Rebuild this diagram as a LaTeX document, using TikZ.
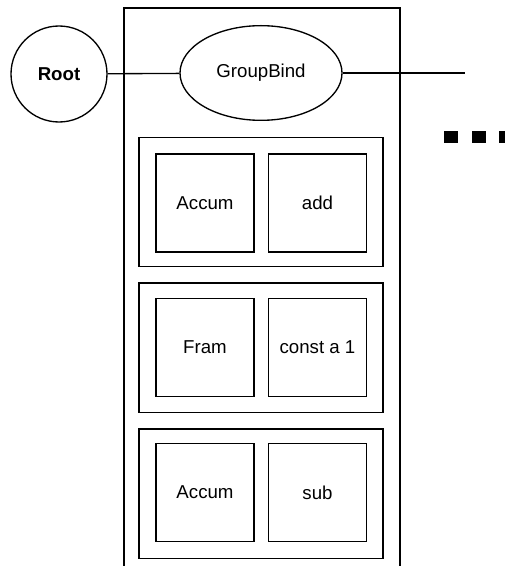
\documentclass[tikz,border=0pt]{standalone}
\usepackage{fontspec}
\setmainfont{Liberation Sans}
\usetikzlibrary{shapes.geometric}
\begin{document}
\begin{tikzpicture}[x=0.75pt,y=-0.75pt,
  every node/.style={font=\fontsize{14}{16}\selectfont, line width=1pt, inner sep=0pt},
  line/.style={line width=1pt},
  cell/.style={draw, rectangle, minimum width=73.5pt, minimum height=73.5pt},
  group/.style={draw, rectangle, minimum width=183pt, minimum height=97pt},
  dot/.style={fill=black, rectangle, minimum width=10.5pt, minimum height=9pt}]
\useasboundingbox (0,0) rectangle (505,566);
% outer frame (open at the bottom)
\draw[line] (124,570) -- (124,8) -- (400,8) -- (400,570);
\node[draw, circle, minimum size=72pt] (root) at (59,74) {\bfseries Root};
\node[draw, ellipse, minimum width=121.5pt, minimum height=71pt] (gb) at (261,73) {GroupBind};
\coordinate (end) at (465,73);
\draw[line] (root) -- (gb);
\draw[line] (gb) -- (end);
% groups
\node[group] (g1) at (261,202) {};
\node[group] (g2) at (261,347.5) {};
\node[group] (g3) at (261,493.5) {};
% cells
\node[cell] (a1) at (205,203) {Accum};
\node[cell] (b1) at (317.5,203) {add};
\node[cell] (a2) at (205,347.5) {Fram};
\node[cell] (b2) at (317.5,347.5) {const a 1};
\node[cell] (a3) at (205,492.5) {Accum};
\node[cell] (b3) at (317.5,492.5) {sub};
% ellipsis dots
\node[dot] (d1) at (451,137) {};
\node[dot] (d2) at (478.5,137) {};
\node[dot] (d3) at (506,137) {};
\end{tikzpicture}
\end{document}
